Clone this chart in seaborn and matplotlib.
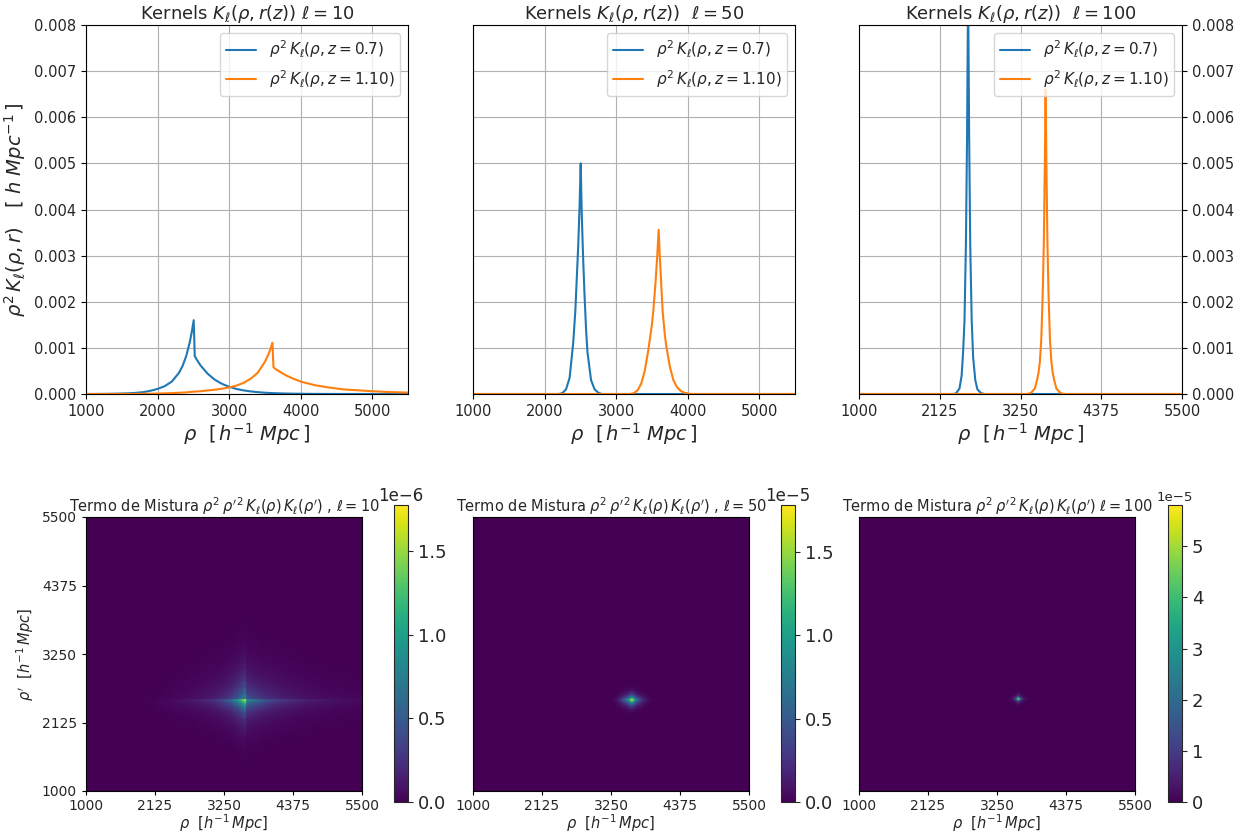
import numpy as np
import matplotlib
matplotlib.use("Agg")
import matplotlib.pyplot as plt
import seaborn as sns
import pandas as pd

# ---------------- data ----------------
# l = 10, z = 0.7 (blue)
rho_b10 = [1000, 1200, 1400, 1600, 1700, 1800, 1900, 2000, 2100, 2200, 2300, 2350, 2400,
           2450, 2480, 2505, 2520, 2550, 2600, 2700, 2800, 2900, 3000, 3100, 3200, 3300,
           3400, 3500, 3600, 3700, 3800, 3900, 4000, 4200, 4400, 4600, 5000, 5500]
k_b10 = [0.0, 0.000002, 0.000006, 0.000015, 0.000025, 0.00004, 0.00007, 0.00011, 0.00017,
         0.00027, 0.00046, 0.00061, 0.00082, 0.00112, 0.00136, 0.0016, 0.00082, 0.00074,
         0.00062, 0.00044, 0.00031, 0.00022, 0.000157, 0.00011, 0.000079, 0.000056,
         0.00004, 0.000028, 0.00002, 0.000014, 0.00001, 0.000007, 0.000005, 0.0000025,
         0.0000012, 0.0000005, 0.0, 0.0]
# l = 10, z = 1.10 (orange)
rho_o10 = [1000, 1600, 1700, 1800, 1900, 2000, 2100, 2200, 2300, 2400, 2500, 2600, 2700,
           2800, 2900, 3000, 3100, 3200, 3300, 3400, 3500, 3550, 3580, 3605, 3620, 3650,
           3700, 3800, 3900, 4000, 4200, 4400, 4600, 4800, 5000, 5200, 5500]
k_o10 = [0.0, 0.000001, 0.000002, 0.000004, 0.000006, 0.00001, 0.000014, 0.00002, 0.000026,
         0.000035, 0.00005, 0.00006, 0.000077, 0.000093, 0.000114, 0.000143, 0.00018,
         0.00024, 0.00033, 0.00046, 0.0007, 0.00086, 0.00099, 0.00111, 0.00058, 0.00054,
         0.00049, 0.0004, 0.00033, 0.00027, 0.00019, 0.00014, 0.0001, 0.00008, 0.00006,
         0.000045, 0.00003]

# l = 50
rho_b50 = [1000, 2200, 2250, 2300, 2350, 2400, 2430, 2450, 2470, 2490, 2505, 2520, 2540,
           2560, 2580, 2600, 2650, 2700, 2750, 2800, 5500]
k_b50 = [0.0, 0.0, 0.00002, 0.0001, 0.00035, 0.0011, 0.0018, 0.0025, 0.0032, 0.0041, 0.005,
         0.0039, 0.0029, 0.0021, 0.0014, 0.0009, 0.0003, 0.0001, 0.00003, 0.0, 0.0]
rho_o50 = [1000, 3200, 3250, 3300, 3350, 3400, 3450, 3500, 3520, 3550, 3575, 3595, 3610,
           3630, 3650, 3680, 3700, 3750, 3800, 3850, 3900, 3950, 4000, 4050, 5500]
k_o50 = [0.0, 0.0, 0.00002, 0.00008, 0.00022, 0.0005, 0.00095, 0.0015, 0.0018, 0.0024,
         0.003, 0.00356, 0.003, 0.0024, 0.0018, 0.0013, 0.00105, 0.0006, 0.0003, 0.00015,
         0.00007, 0.00003, 0.00001, 0.0, 0.0]

# l = 100
rho_b100 = [1000, 2300, 2350, 2400, 2430, 2450, 2470, 2490, 2505, 2520, 2535, 2550, 2570,
            2590, 2620, 2650, 2700, 2750, 5500]
k_b100 = [0.0, 0.0, 0.00001, 0.00012, 0.0004, 0.0009, 0.0016, 0.0033, 0.0055, 0.0088,
          0.0055, 0.0032, 0.0016, 0.0008, 0.0003, 0.0001, 0.00002, 0.0, 0.0]
rho_o100 = [1000, 3350, 3400, 3450, 3480, 3500, 3520, 3540, 3560, 3575, 3590, 3600, 3610,
            3625, 3640, 3660, 3680, 3700, 3720, 3750, 3800, 3850, 5500]
k_o100 = [0.0, 0.0, 0.00003, 0.00012, 0.0003, 0.00045, 0.0007, 0.0012, 0.0022, 0.0033,
          0.0051, 0.0066, 0.0051, 0.0033, 0.0022, 0.0012, 0.0007, 0.00045, 0.0003, 0.00012,
          0.00003, 0.0, 0.0]

ells = [10, 50, 100]
top_titles = [r"Kernels $K_\ell(\rho, r(z))$ $\ell = 10$",
              r"Kernels $K_\ell(\rho, r(z))$  $\ell = 50$",
              r"Kernels $K_\ell(\rho, r(z))$  $\ell = 100$"]
bottom_titles = [r"Termo de Mistura $\rho^2\,\rho^{\prime\,2}\,K_\ell(\rho)\,K_\ell(\rho^\prime)$ , $\ell = 10$",
                 r"Termo de Mistura $\rho^2\,\rho^{\prime\,2}\,K_\ell(\rho)\,K_\ell(\rho^\prime)$ , $\ell = 50$",
                 r"Termo de Mistura $\rho^2\,\rho^{\prime\,2}\,K_\ell(\rho)\,K_\ell(\rho^\prime)$ $\ell = 100$"]
label_b = r"$\rho^2\, K_\ell(\rho, z = 0.7)$"
label_o = r"$\rho^2\, K_\ell(\rho, z = 1.10)$"
xticks_a = [1000, 2000, 3000, 4000, 5000]
xticks_b = [1000, 2125, 3250, 4375, 5500]
yticks_top = [0.000, 0.001, 0.002, 0.003, 0.004, 0.005, 0.006, 0.007, 0.008]
cbar_ticks = [[0.0, 0.5e-6, 1.0e-6, 1.5e-6],
              [0.0, 0.5e-5, 1.0e-5, 1.5e-5],
              [0.0, 1e-5, 2e-5, 3e-5, 4e-5, 5e-5]]

curves = [(rho_b10, k_b10, rho_o10, k_o10),
          (rho_b50, k_b50, rho_o50, k_o50),
          (rho_b100, k_b100, rho_o100, k_o100)]

# ---------------- figure ----------------
sns.set_style("ticks")
plt.rcParams["font.family"] = ["DejaVu Sans"]
plt.rcParams["mathtext.fontset"] = "dejavusans"

W, H = 1256, 839
fig = plt.figure(figsize=(W / 100, H / 100), dpi=100)


def px_axes(x0, y0, x1, y1):
    return fig.add_axes([x0 / W, 1 - y1 / H, (x1 - x0) / W, (y1 - y0) / H])


top_boxes = [(86, 25, 408, 394), (473, 25, 795, 394), (859, 25, 1182, 394)]
heat_boxes = [(86, 517, 362, 791), (473, 517, 749, 791), (859, 517, 1135, 791)]
cbar_boxes = [(394, 505, 408, 802), (781, 505, 795, 802), (1168, 505, 1182, 802)]

blue, orange = "#1f77b4", "#ff7f0e"

for i, (ell, (rb, kb, ro, ko)) in enumerate(zip(ells, curves)):
    # ---- top: kernels ----
    ax = px_axes(*top_boxes[i])
    dfb = pd.DataFrame({"rho": rb, "K": kb})
    dfo = pd.DataFrame({"rho": ro, "K": ko})
    sns.lineplot(data=dfb, x="rho", y="K", ax=ax, color=blue, lw=1.5,
                 label=label_b, errorbar=None)
    sns.lineplot(data=dfo, x="rho", y="K", ax=ax, color=orange, lw=1.5,
                 label=label_o, errorbar=None)
    ax.set_xlim(1000, 5500)
    ax.set_ylim(0, 0.008)
    ax.set_xticks(xticks_b if i == 2 else xticks_a)
    ax.set_yticks(yticks_top)
    ax.yaxis.set_major_formatter(matplotlib.ticker.FormatStrFormatter("%.3f"))
    ax.grid(True, color="#b0b0b0", lw=0.8)
    for s in ax.spines.values():
        s.set_color("black")
        s.set_linewidth(0.8)
        s.set_visible(True)
    ax.tick_params(axis="x", labelsize=10.5, length=3.5, width=0.8, color="black")
    ax.tick_params(axis="y", labelsize=10.5, length=3.5, width=0.8, color="black")
    if i == 1:
        ax.tick_params(axis="y", left=False, labelleft=False)
    elif i == 2:
        ax.yaxis.tick_right()
    ax.set_xlabel(r"$\rho\ \ [\,h^{-1}\ Mpc\,]$", fontsize=14, labelpad=2)
    if i == 0:
        ax.set_ylabel(r"$\rho^2\,K_\ell(\rho, r)\ \ \ [\ h\ Mpc^{-1}\,]$", fontsize=14)
    else:
        ax.set_ylabel("")
    ax.set_title(top_titles[i], fontsize=13, pad=4)
    ax.legend(loc="upper right", fontsize=11, frameon=True)

    # ---- bottom: mixing term ----
    hax = px_axes(*heat_boxes[i])
    cax = px_axes(*cbar_boxes[i])
    C = np.outer(np.array(kb), np.array(ko))
    mesh = hax.pcolormesh(np.array(ro, float), np.array(rb, float), C,
                          shading="gouraud", cmap="viridis", vmin=0, vmax=C.max(),
                          rasterized=True)
    hax.set_xlim(1000, 5500)
    hax.set_ylim(1000, 5500)
    hax.set_xticks(xticks_b)
    for s in hax.spines.values():
        s.set_color("black")
        s.set_linewidth(0.8)
        s.set_visible(True)
    hax.tick_params(axis="x", labelsize=10, length=3, width=0.8, color="black", pad=2.5)
    if i == 0:
        hax.set_yticks(xticks_b)
        hax.tick_params(axis="y", labelsize=10, length=3, width=0.8, color="black")
        hax.set_ylabel(r"$\rho^\prime\ \ [h^{-1}\,Mpc]$", fontsize=10.5)
    else:
        hax.set_yticks([])
    hax.set_xlabel(r"$\rho\ \ [h^{-1}\,Mpc]$", fontsize=10.5, labelpad=0)
    hax.set_title(bottom_titles[i], fontsize=10.5, pad=3)

    cb = fig.colorbar(mesh, cax=cax, ticks=cbar_ticks[i])
    cb.outline.set_linewidth(0.8)
    cb.ax.tick_params(labelsize=13, length=3.5, width=0.8)
    off = cb.ax.yaxis.get_offset_text()
    off.set_fontsize(12 if i < 2 else 9.5)
    off.set_horizontalalignment("center")
    off.set_position((0.5, 0))

fig.savefig("out.png", dpi=100)
